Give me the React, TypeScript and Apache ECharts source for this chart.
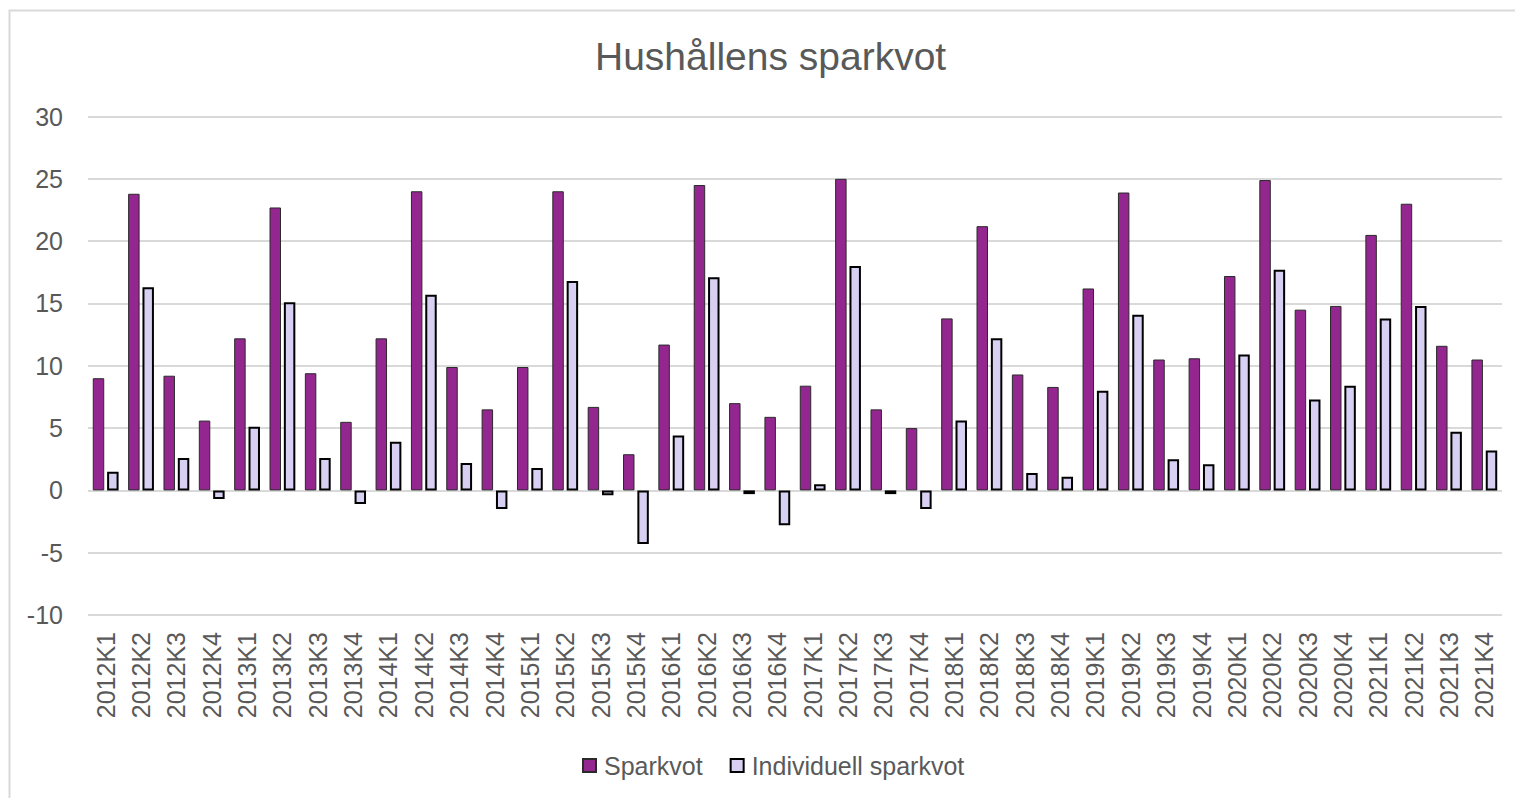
import React, { useEffect, useRef } from "react";
import * as echarts from "echarts";

const categories = [
  "2012K1", "2012K2", "2012K3", "2012K4",
  "2013K1", "2013K2", "2013K3", "2013K4",
  "2014K1", "2014K2", "2014K3", "2014K4",
  "2015K1", "2015K2", "2015K3", "2015K4",
  "2016K1", "2016K2", "2016K3", "2016K4",
  "2017K1", "2017K2", "2017K3", "2017K4",
  "2018K1", "2018K2", "2018K3", "2018K4",
  "2019K1", "2019K2", "2019K3", "2019K4",
  "2020K1", "2020K2", "2020K3", "2020K4",
  "2021K1", "2021K2", "2021K3", "2021K4",
];

const sparkvot = [
  9.0, 23.8, 9.2, 5.6,
  12.2, 22.7, 9.4, 5.5,
  12.2, 24.0, 9.9, 6.5,
  9.9, 24.0, 6.7, 2.9,
  11.7, 24.5, 7.0, 5.9,
  8.4, 25.0, 6.5, 5.0,
  13.8, 21.2, 9.3, 8.3,
  16.2, 23.9, 10.5, 10.6,
  17.2, 24.9, 14.5, 14.8,
  20.5, 23.0, 11.6, 10.5,
];

const individuell = [
  1.5, 16.3, 2.6, -0.7,
  5.1, 15.1, 2.6, -1.1,
  3.9, 15.7, 2.2, -1.5,
  1.8, 16.8, -0.4, -4.3,
  4.4, 17.1, -0.3, -2.8,
  0.5, 18.0, -0.3, -1.5,
  5.6, 12.2, 1.4, 1.1,
  8.0, 14.1, 2.5, 2.1,
  10.9, 17.7, 7.3, 8.4,
  13.8, 14.8, 4.7, 3.2,
];

const seriesNames = ["Sparkvot", "Individuell sparkvot"];
const titleText = "Hushållens sparkvot";

export default function App() {
  const ref = useRef<HTMLDivElement>(null);

  useEffect(() => {
    if (!ref.current) return;
    const chart = echarts.init(ref.current, null, { renderer: "svg" });
    const font = "'Liberation Sans', Arial, sans-serif";
    const textColor = "#595959";
    chart.setOption({
      animation: false,
      backgroundColor: "#ffffff",
      textStyle: { fontFamily: font },
      title: {
        text: titleText,
        left: 590,
        top: 32,
        textStyle: {
          fontFamily: font,
          fontSize: 39,
          fontWeight: "normal",
          color: textColor,
        },
      },
      graphic: [
        {
          type: "rect",
          shape: { x: 9.5, y: 10.5, width: 1540, height: 820 },
          style: { fill: "none", stroke: "#d9d9d9", lineWidth: 2 },
          silent: true,
          z: -1,
        },
      ],
      legend: {
        data: seriesNames,
        left: 577,
        top: 748,
        itemWidth: 13,
        itemHeight: 13,
        itemGap: 27,
        icon: "rect",
        textStyle: { fontFamily: font, fontSize: 25, color: textColor, padding: [0, 0, 0, 3] },
      },
      grid: {
        left: 88,
        right: 13,
        top: 116.5,
        bottom: 183,
        containLabel: false,
      },
      xAxis: {
        type: "category",
        data: categories,
        axisLine: { show: false, onZero: false },
        axisTick: { show: false },
        position: "bottom",
        axisLabel: {
          rotate: 90,
          interval: 0,
          margin: 17,
          fontFamily: font,
          fontSize: 25,
          color: textColor,
        },
      },
      yAxis: {
        type: "value",
        min: -10,
        max: 30,
        interval: 5,
        axisLine: { show: false },
        axisTick: { show: false },
        axisLabel: {
          margin: 25,
          fontFamily: font,
          fontSize: 25,
          color: textColor,
        },
        splitLine: { lineStyle: { color: "#d9d9d9", width: 2 } },
      },
      series: [
        {
          name: seriesNames[0],
          type: "bar",
          data: sparkvot,
          barCategoryGap: "27%",
          barGap: "25%",
          itemStyle: { color: "#93278F", borderColor: "#2a2a2a", borderWidth: 1 },
        },
        {
          name: seriesNames[1],
          type: "bar",
          data: individuell,
          barCategoryGap: "27%",
          barGap: "25%",
          itemStyle: { color: "#D7D0F2", borderColor: "#000000", borderWidth: 2 },
        },
      ],
    });
    return () => chart.dispose();
  }, []);

  return (
    <div
      ref={ref}
      style={{ position: "fixed", left: 0, top: 0, width: 1515, height: 798 }}
    />
  );
}
